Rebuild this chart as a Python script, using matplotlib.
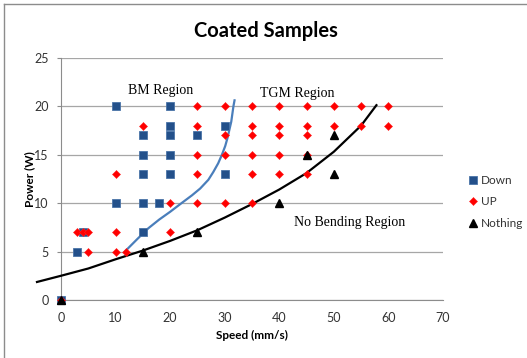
import matplotlib.pyplot as plt
import matplotlib
from matplotlib.lines import Line2D

matplotlib.rc('font', family=['Lato', 'DejaVu Sans'])

# measured samples
down_x = [0, 3, 4, 10, 10, 15, 15, 15, 15, 15, 18, 20, 20, 20, 20, 20, 25, 30, 30]
down_y = [0, 5, 7, 10, 20, 7, 10, 13, 15, 17, 10, 13, 15, 17, 18, 20, 17, 13, 18]

up_x = [25, 30, 35, 40, 45, 50, 55, 60,
        15, 25, 35, 40, 45, 50, 55, 60,
        30, 35, 40, 45,
        25, 30, 35, 40, 45,
        10, 25, 35, 40, 45,
        20, 25, 30, 35,
        3, 4, 5, 10, 20,
        5, 10, 12,
        0]
up_y = [20] * 8 + [18] * 8 + [17] * 4 + [15] * 5 + [13] * 5 + [10] * 4 + [7] * 5 + [5] * 3 + [0]

none_x = [0, 15, 25, 40, 45, 50, 50]
none_y = [0, 5, 7, 10, 15, 13, 17]

# hand drawn boundary lines
bm_x = [11.7, 14, 16, 18, 20, 22.1, 24, 25.5, 27, 27.9, 28.8, 29.5, 30.1, 30.5, 31.2, 31.6, 31.8]
bm_y = [5.0, 6.3, 7.4, 8.3, 9.1, 10.0, 10.8, 11.5, 12.4, 13.2, 14.1, 15.0, 15.9, 16.7, 18.4, 20.0, 20.6]

nb_x = [-4.4, 0, 5, 10, 15, 20, 25, 30, 35, 40, 45, 50, 55, 57.8]
nb_y = [1.86, 2.5, 3.25, 4.2, 5.1, 6.1, 7.2, 8.5, 9.9, 11.4, 13.1, 15.3, 18.0, 20.1]

fig = plt.figure(figsize=(5.27, 3.58), dpi=100)
ax = fig.add_axes([61 / 527, 58 / 358, 382 / 527, 242.3 / 358])

ax.plot(bm_x, bm_y, color='#4A7EBB', lw=1.6, zorder=3)
ax.plot(nb_x, nb_y, color='black', lw=1.6, zorder=3, clip_on=False)

ax.plot(down_x, down_y, 's', ms=6.2, mfc='#23508A', mec='#4A74A8', mew=0.6,
        ls='none', label='Down', zorder=4, clip_on=False)
ax.plot(up_x, up_y, 'D', ms=4.3, mfc='#FF0000', mec='#FF2020', mew=0.4,
        ls='none', label='UP', zorder=5, clip_on=False)
ax.plot(none_x, none_y, '^', ms=6.3, color='black',
        ls='none', label='Nothing', zorder=6, clip_on=False)

ax.set_xlim(0, 70)
ax.set_ylim(0, 25)
ax.set_xticks(range(0, 71, 10))
ax.set_yticks(range(0, 26, 5))
ax.grid(axis='y', color='#A6A6A6', lw=0.9)
ax.set_axisbelow(True)
for s in ['top', 'right']:
    ax.spines[s].set_visible(False)
for s in ['left', 'bottom']:
    ax.spines[s].set_color('#8C8C8C')
ax.tick_params(axis='x', length=0, pad=9, labelsize=9, labelcolor='#333333')
ax.tick_params(axis='y', length=3, pad=6, labelsize=9, labelcolor='#333333', color='#8C8C8C')

ax.set_title('Coated Samples', fontsize=14.5, fontweight='bold', pad=15, x=0.537)
ax.set_xlabel('Speed (mm/s)', fontsize=8.5, fontweight='bold')
ax.xaxis.set_label_coords(0.5, -0.145)
ax.xaxis.label.set_va('center')
ax.set_ylabel('Power (W)', fontsize=8.5, fontweight='bold')
ax.yaxis.set_label_coords(-0.081, 0.5)
ax.yaxis.label.set_va('center')

serif = dict(family='Liberation Serif', fontsize=10, ha='center', va='center')
ax.text(18.3, 21.6, 'BM Region', **serif)
ax.text(43.3, 21.3, 'TGM Region', **serif)
ax.text(52.8, 7.95, 'No Bending Region', **serif)

fig.legend(loc='center left', bbox_to_anchor=(462 / 527, 0.436), frameon=False,
           fontsize=8.5, handlelength=0.8, handletextpad=0.3, labelspacing=0.9,
           borderpad=0, labelcolor='#333333')

# chart frame
fig.add_artist(Line2D([3.5 / 527, 3.5 / 527], [0, 1 - 3.5 / 358], color='#8C8C8C', lw=1))
fig.add_artist(Line2D([3.5 / 527, 1], [1 - 3.5 / 358, 1 - 3.5 / 358], color='#8C8C8C', lw=1))

fig.savefig('out.png', dpi=100)
